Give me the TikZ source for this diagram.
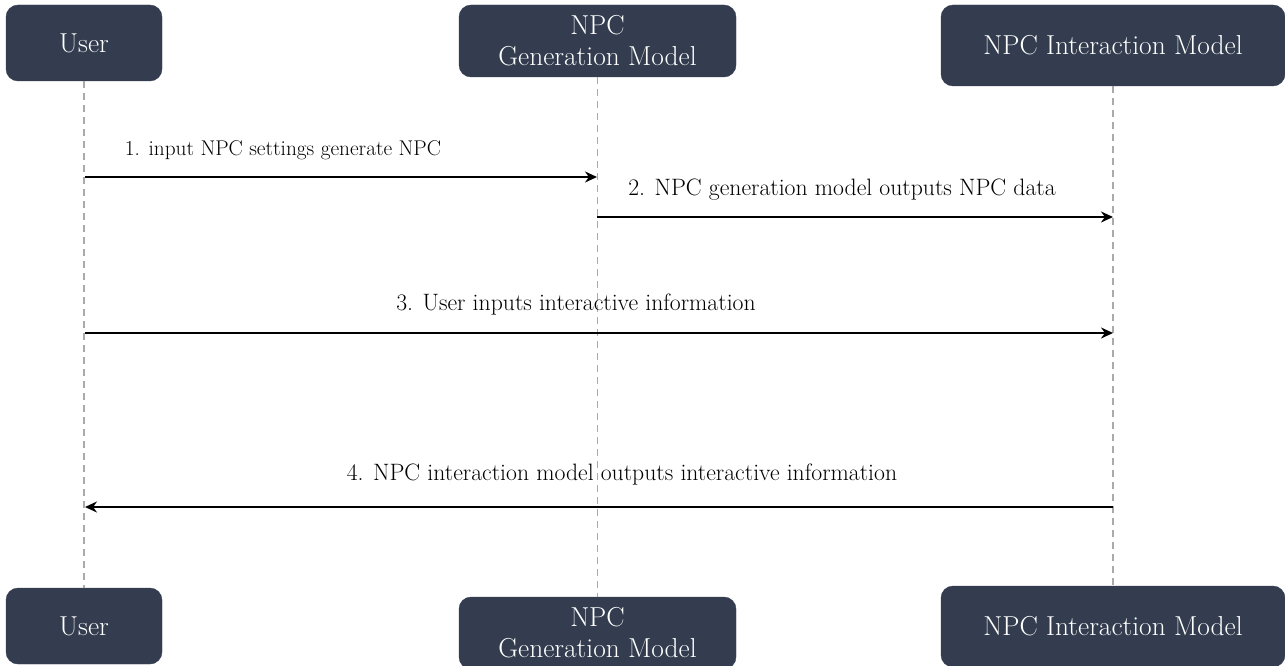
\documentclass[tikz,border=0pt]{standalone}
\usetikzlibrary{arrows.meta}
\definecolor{boxc}{HTML}{333D4F}
\definecolor{lifec}{HTML}{AAAAAA}
\begin{document}
\begin{tikzpicture}[x=1pt,y=-1pt,
  actor/.style={draw=boxc,fill=boxc,rounded corners=12pt,text=white,inner sep=0pt,align=center,font=\fontsize{27.4}{31}\selectfont},
  life/.style={draw=lifec,line width=1.2pt,dash pattern=on 7pt off 5pt},
  msg/.style={draw=black,line width=2pt,-{Stealth[length=12pt,width=11pt]}},
  lbl/.style={inner sep=0pt,anchor=center,font=\fontsize{23.7}{28}\selectfont},
  lbls/.style={inner sep=0pt,anchor=center,font=\fontsize{21.3}{25}\selectfont}]
\useasboundingbox (0,0) rectangle (1285,666);
\node[actor,minimum width=156pt,minimum height=76pt] (u1) at (84,43) {User};
\node[actor,minimum width=277pt,minimum height=72pt] (g1) at (597.5,41) {NPC\\Generation Model};
\node[actor,minimum width=344pt,minimum height=81pt] (i1) at (1113,45.5) {NPC Interaction Model};
\node[actor,minimum width=156pt,minimum height=76pt] (u2) at (84,626) {User};
\node[actor,minimum width=277pt,minimum height=72pt] (g2) at (597.5,633) {NPC\\Generation Model};
\node[actor,minimum width=344pt,minimum height=81pt] (i2) at (1113,626.5) {NPC Interaction Model};
\draw[life] (u1.south) -- (u2.north);
\draw[life] (g1.south) -- (g2.north);
\draw[life] (i1.south) -- (i2.north);
\coordinate (m1s) at (85,177); \coordinate (m1e) at (597,177);
\coordinate (m2s) at (597,217); \coordinate (m2e) at (1113,217);
\coordinate (m3s) at (85,333); \coordinate (m3e) at (1113,333);
\coordinate (m4s) at (1113,507); \coordinate (m4e) at (85,507);
\draw[msg] (m1s) -- (m1e);
\draw[msg] (m2s) -- (m2e);
\draw[msg] (m3s) -- (m3e);
\draw[msg] (m4s) -- (m4e);
\node[lbls] (t1) at (283,150) {1. input NPC settings generate NPC};
\node[lbl] (t2) at (842,190) {2. NPC generation model outputs NPC data};
\node[lbl] (t3) at (576,304) {3. User inputs interactive information};
\node[lbl] (t4) at (622,474) {4. NPC interaction model outputs interactive information};
\end{tikzpicture}
\end{document}
